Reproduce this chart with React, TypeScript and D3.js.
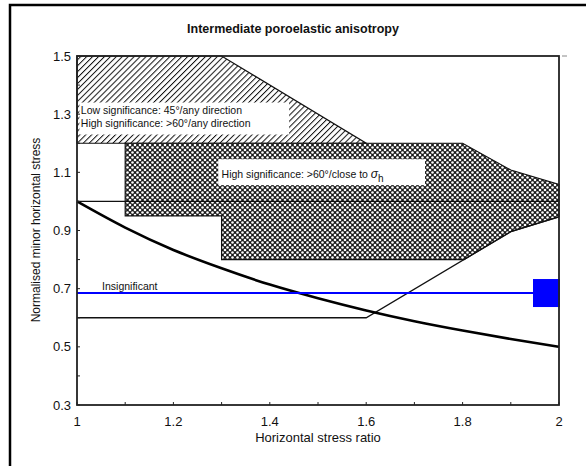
import React from "react";
import * as d3 from "d3";

const title = "Intermediate poroelastic anisotropy";
const xLabel = "Horizontal stress ratio";
const yLabel = "Normalised minor horizontal stress";
const xTicks = [1, 1.2, 1.4, 1.6, 1.8, 2];
const yTicks = [0.3, 0.5, 0.7, 0.9, 1.1, 1.3, 1.5];
const xMinor = [1.1, 1.3, 1.5, 1.7, 1.9];
const yMinor = [0.4, 0.6, 0.8, 1.0, 1.2, 1.4];

// hatched zone (low significance 45°/any, high significance >60°/any)
const hatchX = [1, 1.3, 1.6, 1];
const hatchY = [1.5, 1.5, 1.2, 1.2];

// cross-hatched zone (high significance >60°/close to sigma h)
const crossX = [1.1, 1.8, 1.9, 2, 2, 1.9, 1.803, 1.3, 1.3, 1.1];
const crossY = [1.2, 1.2, 1.108, 1.058, 0.947, 0.896, 0.8, 0.8, 0.95, 0.95];

// thin boundary line
const boundX = [1, 1.6, 1.9, 2];
const boundY = [0.6, 0.6, 0.896, 0.947];

// reference line at 1.0
const refY = 1.0;

// thick curve
const curveX = [1, 1.1, 1.2, 1.3, 1.4, 1.5, 1.6, 1.7, 1.8, 1.9, 2];
const curveY = [1.0, 0.91, 0.833, 0.77, 0.714, 0.667, 0.625, 0.588, 0.556, 0.527, 0.5];

// blue line
const blueY = 0.685;

const W = 586;
const H = 466;
const M = { left: 77, right: 559, top: 56, bottom: 405 };

export default function App() {
  const x = d3.scaleLinear().domain([1, 2]).range([M.left, M.right]);
  const y = d3.scaleLinear().domain([0.3, 1.5]).range([M.bottom, M.top]);
  const poly = (xs: number[], ys: number[]) =>
    d3.line<number>().x((_, i) => x(xs[i])).y((_, i) => y(ys[i]))(xs.map((v) => v)) + "Z";
  const lineP = (xs: number[], ys: number[]) =>
    d3.line<number>().x((_, i) => x(xs[i])).y((_, i) => y(ys[i]))(xs.map((v) => v)) || "";
  const curveP =
    d3
      .line<number>()
      .x((_, i) => x(curveX[i]))
      .y((_, i) => y(curveY[i]))
      .curve(d3.curveMonotoneX)(curveX) || "";
  const font = "'Liberation Sans', Arial, sans-serif";

  return (
    <svg width={W} height={H} style={{ position: "absolute", left: 0, top: 0 }} fontFamily={font}>
      <defs>
        <pattern id="hatch" patternUnits="userSpaceOnUse" width={4.2} height={4.2} patternTransform="rotate(45)">
          <rect width={4.2} height={4.2} fill="#fff" />
          <line x1={0} y1={0} x2={0} y2={4.2} stroke="#111" strokeWidth={2} />
        </pattern>
        <pattern id="cross" patternUnits="userSpaceOnUse" width={5} height={5}>
          <rect width={5} height={5} fill="#1a1a1a" />
          <circle cx={0} cy={0} r={1.3} fill="#fff" />
          <circle cx={5} cy={0} r={1.3} fill="#fff" />
          <circle cx={0} cy={5} r={1.3} fill="#fff" />
          <circle cx={5} cy={5} r={1.3} fill="#fff" />
          <circle cx={2.5} cy={2.5} r={1.3} fill="#fff" />
        </pattern>
      </defs>
      <rect x={0} y={0} width={W} height={H} fill="#fff" />
      <rect x={10} y={5} width={W + 20} height={H + 20} fill="none" stroke="#000" strokeWidth={2.5} />

      <text x={293} y={33} textAnchor="middle" fontSize={12.5} fontWeight="bold" fill="#111">
        {title}
      </text>

      {/* zones */}
      <path d={poly(hatchX, hatchY)} fill="url(#hatch)" stroke="#111" strokeWidth={1.2} />
      <path d={poly(crossX, crossY)} fill="url(#cross)" stroke="#111" strokeWidth={1.2} />

      {/* label boxes */}
      <rect x={x(1.005)} y={y(1.34)} width={x(1.44) - x(1.005)} height={y(1.23) - y(1.34)} fill="#fff" />
      <text x={x(1.008)} y={y(1.302)} fontSize={10.5} fill="#111">
        Low significance: 45°/any direction
      </text>
      <text x={x(1.008)} y={y(1.257)} fontSize={10.5} fill="#111">
        High significance: &gt;60°/any direction
      </text>
      <rect x={x(1.293)} y={y(1.145)} width={x(1.722) - x(1.293)} height={y(1.056) - y(1.145)} fill="#fff" />
      <text x={x(1.3)} y={y(1.08)} fontSize={10.5} fill="#111">
        High significance: &gt;60°/close to{" "}
        <tspan fontStyle="italic" fontSize={12}>σ</tspan>
        <tspan fontSize={10} dy={4}>h</tspan>
      </text>

      {/* lines */}
      <line x1={x(1)} x2={x(2)} y1={y(refY)} y2={y(refY)} stroke="#111" strokeWidth={1.2} />
      <path d={lineP(boundX, boundY)} fill="none" stroke="#111" strokeWidth={1.3} />
      <path d={curveP} fill="none" stroke="#000" strokeWidth={2.6} />
      <line x1={x(1)} x2={x(2)} y1={y(blueY)} y2={y(blueY)} stroke="#0000ff" strokeWidth={2} />
      <rect x={x(2) - 26} y={y(blueY) - 14} width={27} height={28} fill="#0000ff" />
      <text x={x(1.052)} y={y(blueY) - 3} fontSize={10.5} fill="#111">
        Insignificant
      </text>

      {/* axes frame */}
      <rect x={M.left} y={M.top} width={M.right - M.left} height={M.bottom - M.top} fill="none" stroke="#222" strokeWidth={1.8} />
      <line x1={M.right + 3} x2={M.right + 8} y1={M.top} y2={M.top} stroke="#888" strokeWidth={1} />
      {xTicks.concat(xMinor).map((t) => (
        <line key={"xt" + t} x1={x(t)} x2={x(t)} y1={M.bottom} y2={M.bottom - 3} stroke="#222" strokeWidth={1} />
      ))}
      {yTicks.concat(yMinor).map((t) => (
        <line key={"yt" + t} x1={M.left} x2={M.left + 3} y1={y(t)} y2={y(t)} stroke="#222" strokeWidth={1} />
      ))}
      {xTicks.map((t) => (
        <text key={"xl" + t} x={x(t)} y={M.bottom + 21} textAnchor="middle" fontSize={13} fill="#111">
          {d3.format("~g")(t)}
        </text>
      ))}
      {yTicks.map((t) => (
        <text key={"yl" + t} x={M.left - 6} y={y(t) + 4.5} textAnchor="end" fontSize={13} fill="#111">
          {d3.format(".1f")(t)}
        </text>
      ))}
      <text x={318} y={442} textAnchor="middle" fontSize={13} fill="#111">
        {xLabel}
      </text>
      <text transform={`translate(40,${230}) rotate(-90)`} textAnchor="middle" fontSize={12} fill="#111">
        {yLabel}
      </text>
    </svg>
  );
}
